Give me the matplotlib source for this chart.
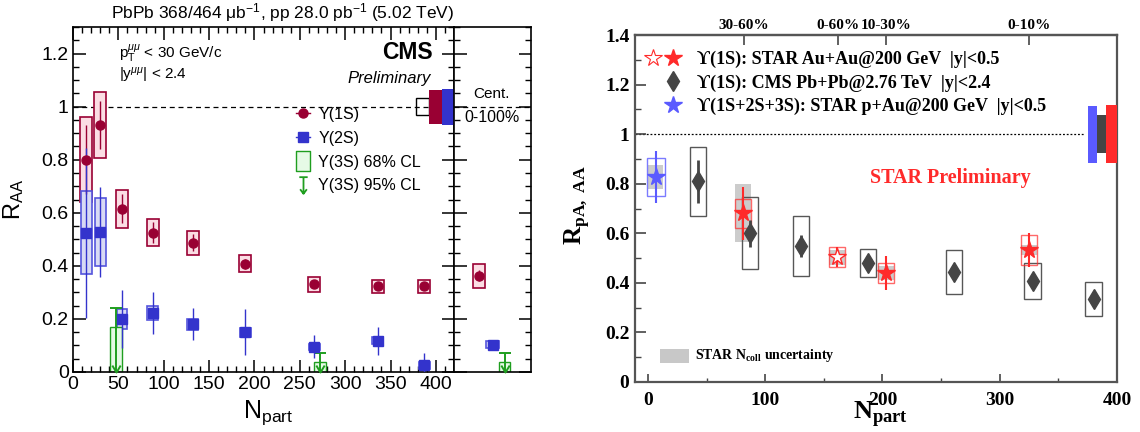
import matplotlib.pyplot as plt
from matplotlib.patches import Rectangle
from matplotlib.lines import Line2D
from matplotlib.path import Path
from matplotlib.ticker import MultipleLocator
from matplotlib.legend_handler import HandlerTuple

plt.rcParams['font.family'] = ['Liberation Sans', 'DejaVu Sans']
plt.rcParams['mathtext.fontset'] = 'custom'
plt.rcParams['mathtext.rm'] = 'Liberation Sans'
plt.rcParams['mathtext.it'] = 'Liberation Sans:italic'

# ---------------- CMS PbPb 5.02 TeV (left) ----------------
cms_npart = [14.5, 30, 54, 88, 132, 190, 266, 336, 387]
y1s = [0.80, 0.93, 0.615, 0.525, 0.487, 0.407, 0.33, 0.323, 0.323]
y1s_stat = [0.13, 0.09, 0.055, 0.04, 0.032, 0.02, 0.015, 0.015, 0.015]
y1s_syst = [0.16, 0.125, 0.072, 0.05, 0.045, 0.032, 0.027, 0.025, 0.025]
y2s = [0.525, 0.527, 0.20, 0.222, 0.18, 0.15, 0.095, 0.118, 0.025]
y2s_stat = [0.32, 0.17, 0.11, 0.08, 0.06, 0.087, 0.043, 0.053, 0.047]
y2s_syst = [0.157, 0.128, 0.038, 0.025, 0.02, 0.017, 0.012, 0.013, 0.012]
y3s_npart = [47, 272]
y3s_cl68 = [0.17, 0.037]
y3s_cl95 = [0.24, 0.07]

# centrality integrated 0-100%: 1S, 2S, 3S
int_vals = [0.363, 0.103]
int_stat = [0.02, 0.015]
int_syst = [0.045, 0.012]
int_3s_cl68 = [0.037]
int_3s_cl95 = [0.07]

# global uncertainties around unity: pp lumi, 1S, 2S
cms_glob = [0.033, 0.064, 0.068]

cms_yticks = [0, 0.2, 0.4, 0.6, 0.8, 1.0, 1.2]
cms_ylabels = ['0', '0.2', '0.4', '0.6', '0.8', '1', '1.2']
cms_legend = ['Υ(1S)', 'Υ(2S)', 'Υ(3S) 68% CL', 'Υ(3S) 95% CL']

# ---------------- STAR compilation (right) ----------------
pau_npart = [6.8]
pau_r = [0.827]
pau_stat = [0.106]
pau_syst = [0.078]
pau_ncoll = [0.047]

cms276_npart = [42.6, 87, 130.5, 187.6, 261, 328, 380]
cms276_r = [0.81, 0.60, 0.548, 0.48, 0.444, 0.407, 0.335]
cms276_stat = [0.087, 0.055, 0.045, 0.02, 0.02, 0.02, 0.02]
cms276_syst = [0.14, 0.145, 0.12, 0.058, 0.09, 0.074, 0.069]

auau_npart = [81, 161, 203, 325]
auau_r = [0.68, 0.504, 0.44, 0.532]
auau_stat = [0.106, 0.04, 0.07, 0.068]
auau_syst = [0.06, 0.04, 0.04, 0.06]
auau_ncoll = [0.117, 0.03, 0.03, 0.02]
auau_open = [False, True, False, False]

star_glob = [0.115, 0.077, 0.117]   # p+Au, CMS, Au+Au

cent_npart = [82, 162, 203, 325]
cent_labels = ['30-60%', '0-60%', '10-30%', '0-10%']
star_yticks = [0, 0.2, 0.4, 0.6, 0.8, 1.0, 1.2, 1.4]
star_ylabels = ['0', '0.2', '0.4', '0.6', '0.8', '1', '1.2', '1.4']
star_xticks = [0, 100, 200, 300, 400]
star_xlabels = ['0', '100', '200', '300', '400']
star_legend = ['ϒ(1S): STAR Au+Au@200 GeV  |y|<0.5',
               'ϒ(1S): CMS Pb+Pb@2.76 TeV  |y|<2.4',
               'ϒ(1S+2S+3S): STAR p+Au@200 GeV  |y|<0.5']

maroon = '#990033'
pink = '#fbdde4'
cblue = '#3333cc'
lblue = '#d8daf4'
green = '#1f9e1f'
lgreen = '#e6fae6'
red = '#ff2a2a'
sblue = '#5a5aff'
dgray = '#454545'


def boxes(a, xs, ys, errs, w, fc, ec, lw=1.0, z=2, alpha=1.0):
    for x, y, e in zip(xs, ys, errs):
        a.add_patch(Rectangle((x - w / 2, y - e), w, 2 * e, fc=fc, ec=ec,
                              lw=lw, zorder=z, alpha=alpha, clip_on=False))


chevron = Path([(-0.6, 1.0), (0, 0), (0.6, 1.0)],
               [Path.MOVETO, Path.LINETO, Path.LINETO])
arrow_mk = Path([(-0.5, 1), (0.5, 1), (0, 1), (0, -1), (-0.4, -0.45), (0, -1), (0.4, -0.45)],
                [Path.MOVETO, Path.LINETO, Path.MOVETO, Path.LINETO,
                 Path.MOVETO, Path.LINETO, Path.LINETO])
tallbox = Path([(-0.35, -0.5), (0.35, -0.5), (0.35, 0.5), (-0.35, 0.5), (-0.35, -0.5)],
               [Path.MOVETO, Path.LINETO, Path.LINETO, Path.LINETO, Path.CLOSEPOLY])


def upper_limits(a, xs, cl68, cl95, w68, wcap):
    for x, h68, h95 in zip(xs, cl68, cl95):
        a.add_patch(Rectangle((x - w68 / 2, 0), w68, h68, fc=lgreen, ec=green,
                              lw=1.0, zorder=2))
        a.vlines(x, 0, h95, color=green, lw=1.4, zorder=3)
        a.hlines(h95, x - wcap / 2, x + wcap / 2, color=green, lw=1.4, zorder=3)
        a.plot([x], [0], ls='none', marker=chevron, ms=10, mfc='none',
               mec=green, mew=1.4, zorder=3, clip_on=False)


fig = plt.figure(figsize=(11.4, 4.32), dpi=100)
ax = fig.add_axes([73 / 1140, 60 / 432, 381 / 1140, 345 / 432])
side = fig.add_axes([454 / 1140, 60 / 432, 77 / 1140, 345 / 432])
star = fig.add_axes([635 / 1140, 50 / 432, 482 / 1140, 347 / 432])

# ---- CMS main panel ----
ax.set_xlim(0, 420)
ax.set_ylim(0, 1.3)
ax.axhline(1, color='k', ls='--', lw=0.9, dashes=(4, 3), zorder=1)
boxes(ax, cms_npart, y1s, y1s_syst, 13, pink, maroon, lw=1.2)
boxes(ax, cms_npart, y2s, y2s_syst, 12, lblue, '#5555dd', lw=1.2)
ax.errorbar(cms_npart, y1s, yerr=y1s_stat, fmt='o', color=maroon, ms=6.5,
            elinewidth=1.0, capsize=0, zorder=5)
ax.errorbar(cms_npart, y2s, yerr=y2s_stat, fmt='s', color=cblue, ms=6.5,
            elinewidth=1.0, capsize=0, zorder=5)
upper_limits(ax, y3s_npart, y3s_cl68, y3s_cl95, 13, 13)

# global uncertainty boxes at unity
ax.add_patch(Rectangle((378, 1 - cms_glob[0]), 14, 2 * cms_glob[0], fc='none', ec='k', lw=1.0, zorder=3))
ax.add_patch(Rectangle((392, 1 - cms_glob[1]), 15, 2 * cms_glob[1], fc=maroon, ec='none', zorder=3))
ax.add_patch(Rectangle((407, 1 - cms_glob[2]), 13, 2 * cms_glob[2], fc=cblue, ec='none', zorder=3, clip_on=False))

ax.set_yticks(cms_yticks, cms_ylabels)
ax.xaxis.set_major_locator(MultipleLocator(50))
ax.xaxis.set_minor_locator(MultipleLocator(10))
ax.yaxis.set_minor_locator(MultipleLocator(0.05))
ax.tick_params(which='both', direction='in', top=True, right=True, labelsize=14, pad=3)
ax.tick_params(which='major', length=9, width=1.1)
ax.tick_params(which='minor', length=4.5, width=1.0)
for s in ax.spines.values():
    s.set_linewidth(1.2)

ax.text(1.0, 1.01, 'PbPb 368/464 μb$^{-1}$, pp 28.0 pb$^{-1}$ (5.02 TeV)',
        transform=ax.transAxes, ha='right', va='bottom', fontsize=12.5)
ax.text(0.945, 0.925, 'CMS', transform=ax.transAxes, ha='right', va='center',
        fontsize=16.5, fontweight='bold')
ax.text(0.94, 0.852, 'Preliminary', transform=ax.transAxes, ha='right', va='center',
        fontsize=12, fontstyle='italic')
ax.text(0.12, 0.925, r'p$_\mathregular{T}^{\mu\mu}$ < 30 GeV/c', transform=ax.transAxes,
        ha='left', va='center', fontsize=11)
ax.text(0.12, 0.86, r'|y$^{\mu\mu}$| < 2.4', transform=ax.transAxes,
        ha='left', va='center', fontsize=11)

h1 = Line2D([], [], color=maroon, marker='o', ms=6.5, lw=1.0)
h2 = Line2D([], [], color=cblue, marker='s', ms=6.5, lw=1.0)
h3 = Line2D([], [], ls='none', marker=tallbox, ms=15, mfc=lgreen, mec=green, mew=1.0)
h4 = Line2D([], [], ls='none', marker=arrow_mk, ms=12, mfc='none', mec=green, mew=1.3)
ax.legend([h1, h2, h3, h4], cms_legend, loc='upper left', bbox_to_anchor=(0.585, 0.768),
          frameon=False, fontsize=11.5, handlelength=0.9, handletextpad=0.5,
          labelspacing=0.55, borderpad=0, borderaxespad=0)

fig.text(14 / 1140, 1 - 199 / 432, r'R$_\mathregular{AA}$', rotation=90, ha='center',
         va='center', fontsize=17)
fig.text(243 / 1140, 1 - 418 / 432, r'N$_\mathregular{part}$', ha='left', va='baseline',
         fontsize=18)

# ---- CMS integrated panel ----
side.set_xlim(0, 1)
side.set_ylim(0, 1.3)
side.axhline(1, color='k', ls='--', lw=0.9, dashes=(4, 3), zorder=1)
boxes(side, [0.33], int_vals[:1], int_syst[:1], 0.155, pink, maroon, lw=1.2)
boxes(side, [0.5], int_vals[1:], int_syst[1:], 0.165, lblue, '#5555dd', lw=1.2)
side.errorbar([0.33], int_vals[:1], yerr=int_stat[:1], fmt='o', color=maroon, ms=6.5,
              elinewidth=1.0, capsize=0, zorder=5)
side.errorbar([0.5], int_vals[1:], yerr=int_stat[1:], fmt='s', color=cblue, ms=6.5,
              elinewidth=1.0, capsize=0, zorder=5)
upper_limits(side, [0.66], int_3s_cl68, int_3s_cl95, 0.14, 0.15)
side.set_xticks([])
side.set_yticks(cms_yticks)
side.yaxis.set_minor_locator(MultipleLocator(0.05))
side.tick_params(which='both', direction='in', left=True, right=True, labelleft=False)
side.tick_params(which='major', length=9, width=1.1)
side.tick_params(which='minor', length=4.5, width=1.0)
for s in side.spines.values():
    s.set_linewidth(1.2)
side.text(0.49, 0.806, 'Cent.', transform=side.transAxes, ha='center', va='center', fontsize=11)
side.text(0.49, 0.739, '0-100%', transform=side.transAxes, ha='center', va='center', fontsize=11.5)

# ---- STAR panel ----
serif = ['Liberation Serif', 'DejaVu Serif']
star.set_xlim(-11, 400)
star.set_ylim(0, 1.4)
star.hlines(1, -11, 372, color='k', ls=(0, (1.5, 1.5)), lw=0.9, zorder=1)

boxes(star, pau_npart, pau_r, pau_ncoll, 13, '#cccccc', 'none', z=1)
boxes(star, auau_npart, auau_r, auau_ncoll, 14, '#cccccc', 'none', z=1)
boxes(star, pau_npart, pau_r, pau_syst, 15, 'none', sblue, lw=1.0, alpha=0.8)
boxes(star, cms276_npart, cms276_r, cms276_syst, 14, 'none', dgray, lw=1.0, alpha=0.9)
boxes(star, auau_npart, auau_r, auau_syst, 14, 'none', red, lw=1.0, alpha=0.7)

star.errorbar(pau_npart, pau_r, yerr=pau_stat, fmt='*', color=sblue, ms=13,
              elinewidth=1.5, capsize=0, zorder=5)
star.errorbar(cms276_npart, cms276_r, yerr=cms276_stat, fmt='d', color=dgray, ms=10,
              elinewidth=2.0, capsize=0, zorder=5)
for x, y, e, op in zip(auau_npart, auau_r, auau_stat, auau_open):
    star.errorbar([x], [y], yerr=[e], fmt='*', color=red, ms=13,
                  mfc='white' if op else red, elinewidth=1.5, capsize=0, zorder=5)

# global uncertainty boxes at unity
star.add_patch(Rectangle((375, 1 - star_glob[0]), 8, 2 * star_glob[0], fc=sblue, ec='none', zorder=3))
star.add_patch(Rectangle((383, 1 - star_glob[1]), 7.5, 2 * star_glob[1], fc=dgray, ec='none', zorder=3))
star.add_patch(Rectangle((390.5, 1 - star_glob[2]), 9.5, 2 * star_glob[2], fc=red, ec='none', zorder=3))

star.set_xticks(star_xticks, star_xlabels, fontweight='bold', fontfamily=serif)
star.set_yticks(star_yticks, star_ylabels, fontweight='bold', fontfamily=serif)
star.xaxis.set_minor_locator(MultipleLocator(50))
star.yaxis.set_minor_locator(MultipleLocator(0.1))
star.tick_params(which='both', direction='in', labelsize=14, color=dgray)
star.tick_params(axis='x', which='major', length=6, width=1.2, pad=7)
star.tick_params(axis='x', which='minor', length=3, width=1.0)
star.tick_params(axis='y', which='major', length=8, width=1.2, pad=4)
star.tick_params(axis='y', which='minor', length=4, width=1.0)
for s in star.spines.values():
    s.set_linewidth(1.6)
    s.set_color('#555555')

sec = star.secondary_xaxis('top')
sec.set_xticks(cent_npart, cent_labels, fontweight='bold', fontfamily=serif, fontsize=11)
sec.tick_params(direction='in', length=7, width=1.2, pad=2, color=dgray)
sec.spines['top'].set_linewidth(1.6)
sec.spines['top'].set_color('#555555')

blank = Line2D([], [], ls='none')
hs_open = Line2D([], [], ls='none', marker='*', ms=13, mfc='white', mec=red, mew=0.8)
hs_fill = Line2D([], [], ls='none', marker='*', ms=13, color=red)
hs_cms = Line2D([], [], ls='none', marker='d', ms=10, color=dgray)
hs_pau = Line2D([], [], ls='none', marker='*', ms=13, color=sblue)
star.legend([(hs_open, hs_fill), (blank, hs_cms), (blank, hs_pau)], star_legend,
            handler_map={tuple: HandlerTuple(ndivide=None, pad=0.2)},
            loc='upper left', bbox_to_anchor=(0.021, 0.955), frameon=False,
            prop=dict(family=serif, weight='bold', size=13), handlelength=2.0,
            handletextpad=0.9, labelspacing=0.35, borderpad=0, borderaxespad=0)

star.text(0.655, 0.588, 'STAR Preliminary', transform=star.transAxes, ha='center',
          va='center', color=red, fontsize=14.5, fontweight='bold', fontfamily=serif)
star.add_patch(Rectangle((0.052, 0.055), 0.06, 0.04, transform=star.transAxes,
                         fc='#c8c8c8', ec='none'))
star.text(0.124, 0.075, r'STAR N$_\mathregular{coll}$ uncertainty', transform=star.transAxes,
          ha='left', va='center', fontsize=10, fontweight='bold', fontfamily=serif)

fig.text(577 / 1140, 1 - 205 / 432, r'R$_\mathregular{pA,\ AA}$', rotation=90, ha='center',
         va='center', fontsize=18, fontweight='bold', fontfamily=serif)
fig.text(853 / 1140, 1 - 419 / 432, r'N$_\mathregular{part}$', ha='left', va='baseline',
         fontsize=19, fontweight='bold', fontfamily=serif)

fig.savefig('out.png', dpi=100)
